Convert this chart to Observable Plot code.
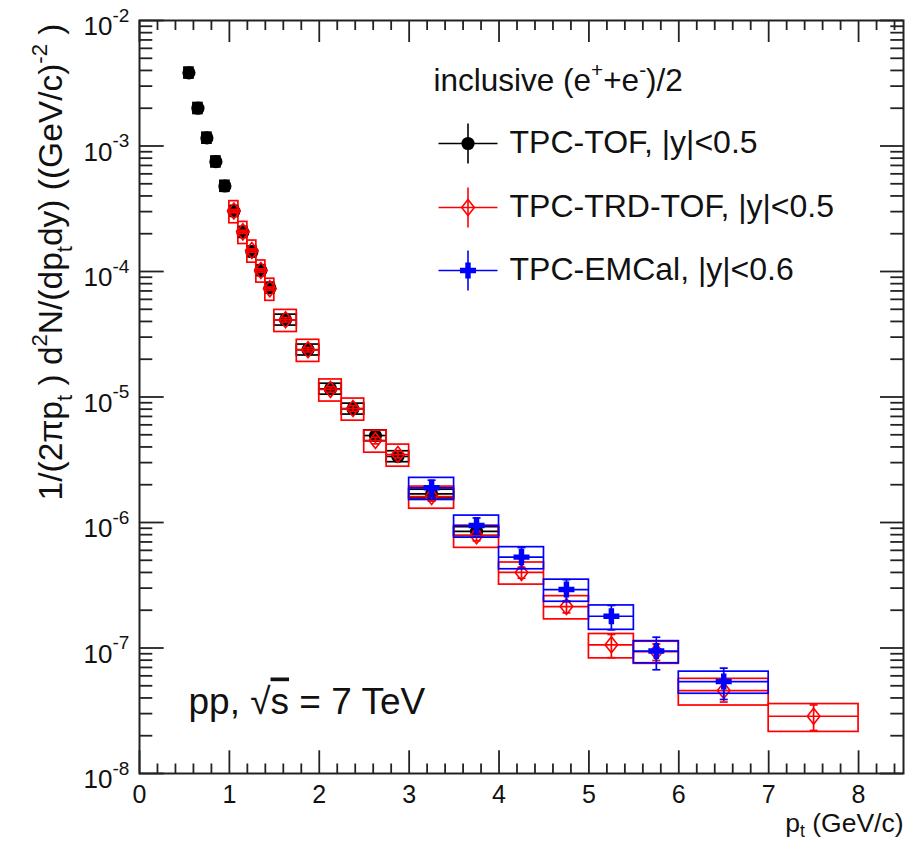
<!DOCTYPE html>
<html><head><meta charset="utf-8">
<script src="https://cdn.jsdelivr.net/npm/d3@7"></script>
<script src="https://cdn.jsdelivr.net/npm/@observablehq/plot@0.6"></script>
<style>html,body{margin:0;padding:0;background:#fff;overflow:hidden}</style>
</head><body><div id="chart"></div>
<script>
// ---------- data ----------
// TPC-TOF, |y|<0.5
const tofX    = [0.55,0.65,0.75,0.85,0.95,1.05,1.15,1.25,1.35,1.45,1.625,1.875,2.125,2.375,2.625,2.875,3.25,3.75];
const tofBinLo= [0.5,0.6,0.7,0.8,0.9,1.0,1.1,1.2,1.3,1.4,1.5,1.75,2.0,2.25,2.5,2.75,3.0,3.5];
const tofBinHi= [0.6,0.7,0.8,0.9,1.0,1.1,1.2,1.3,1.4,1.5,1.75,2.0,2.25,2.5,2.75,3.0,3.5,4.0];
const tofY    = [3.83e-3,2.0e-3,1.16e-3,7.5e-4,4.8e-4,3.03e-4,2.06e-4,1.44e-4,1.02e-4,7.4e-5,4.12e-5,2.38e-5,1.16e-5,8.05e-6,4.93e-6,3.36e-6,1.69e-6,8.5e-7];
const tofSys  = [0.1,0.1,0.1,0.1,0.1,0.1,0.1,0.1,0.1,0.1,0.1,0.1,0.1,0.1,0.1,0.1,0.08,0.08];
const tofStat = [0.02,0.02,0.02,0.02,0.02,0.02,0.02,0.02,0.02,0.02,0.02,0.02,0.03,0.03,0.03,0.04,0.05,0.06];

// TPC-TRD-TOF, |y|<0.5
const trdX    = [1.05,1.15,1.25,1.35,1.45,1.625,1.875,2.125,2.375,2.625,2.875,3.25,3.75,4.25,4.75,5.25,5.75,6.5,7.5];
const trdBinLo= [1.0,1.1,1.2,1.3,1.4,1.5,1.75,2.0,2.25,2.5,2.75,3.0,3.5,4.0,4.5,5.0,5.5,6.0,7.0];
const trdBinHi= [1.1,1.2,1.3,1.4,1.5,1.75,2.0,2.25,2.5,2.75,3.0,3.5,4.0,4.5,5.0,5.5,6.0,7.0,8.0];
const trdY    = [3.03e-4,2.07e-4,1.47e-4,1.02e-4,7.3e-5,4.12e-5,2.38e-5,1.15e-5,8.1e-6,4.5e-6,3.48e-6,1.61e-6,7.85e-7,4.0e-7,2.14e-7,1.06e-7,9.35e-8,4.58e-8,2.86e-8];
const trdSys  = [0.2,0.2,0.2,0.2,0.2,0.2,0.2,0.2,0.2,0.2,0.2,0.2,0.2,0.2,0.21,0.22,0.2,0.24,0.25];
const trdStat = [0.03,0.03,0.03,0.03,0.03,0.04,0.04,0.05,0.05,0.06,0.06,0.08,0.09,0.1,0.11,0.21,0.15,0.19,0.23];

// TPC-EMCal, |y|<0.6
const emcX    = [3.25,3.75,4.25,4.75,5.25,5.75,6.5];
const emcBinLo= [3.0,3.5,4.0,4.5,5.0,5.5,6.0];
const emcBinHi= [3.5,4.0,4.5,5.0,5.5,6.0,7.0];
const emcY    = [1.89e-6,9.46e-7,5.3e-7,2.92e-7,1.79e-7,9.45e-8,5.4e-8];
const emcSys  = [0.2,0.2,0.2,0.2,0.22,0.2,0.2];
const emcStat = [0.15,0.15,0.19,0.2,0.22,0.29,0.28];

// axes
const xDomain = [0, 8.5];
const yDomain = [1e-8, 1e-2];
const xTickLabels = [0,1,2,3,4,5,6,7,8];
const yTickExp = [-8,-7,-6,-5,-4,-3,-2];
const legendNames = ["TPC-TOF, |y|<0.5","TPC-TRD-TOF, |y|<0.5","TPC-EMCal, |y|<0.6"];
const legendTitleParts = [["inclusive (e"],["+","sup"],["+e"],["-","sup"],[")/2"]];
const yLabelParts = [["1/(2πp"],["t","sub"],[" ) d"],["2","sup"],["N/(dp"],["t","sub"],["dy) ((GeV/c)"],["-2","sup"],[" )"]];
const xLabelParts = [["p"],["t","sub"],[" (GeV/c)"]];
const energyParts = [["pp, √"],["s","over"],[" = 7 TeV"]];

// ---------- build ----------
const W = 918, H = 842, mL = 139, mR = 15, mT = 20, mB = 69;
const innerW = W - mL - mR, innerH = H - mT - mB;

const rows = (X, lo, hi, Y, sys, stat) => X.map((x, i) => ({x, lo: lo[i], hi: hi[i], y: Y[i], sys: sys[i], stat: stat[i]}));
const tof = rows(tofX, tofBinLo, tofBinHi, tofY, tofSys, tofStat);
const trd = rows(trdX, trdBinLo, trdBinHi, trdY, trdSys, trdStat);
const emc = rows(emcX, emcBinLo, emcBinHi, emcY, emcSys, emcStat);

const tallDiamond = {draw(c, size) { const r = Math.sqrt(size / Math.PI), w = r * 0.79;
  c.moveTo(0, -r); c.lineTo(w, 0); c.lineTo(0, r); c.lineTo(-w, 0); c.closePath(); }};
const fullCross = {draw(c, size) { const r = Math.sqrt(size / Math.PI), t = r * 0.34;
  c.moveTo(-t, -r); c.lineTo(t, -r); c.lineTo(t, -t); c.lineTo(r, -t); c.lineTo(r, t); c.lineTo(t, t);
  c.lineTo(t, r); c.lineTo(-t, r); c.lineTo(-t, t); c.lineTo(-r, t); c.lineTo(-r, -t); c.lineTo(-t, -t); c.closePath(); }};
const hLine = {draw(c, size) { const r = Math.sqrt(size / Math.PI); c.moveTo(-r, 0); c.lineTo(r, 0); }};
const vLine = {draw(c, size) { const r = Math.sqrt(size / Math.PI); c.moveTo(0, -r); c.lineTo(0, r); }};
const disc = {draw(c, size) { const r = Math.sqrt(size / Math.PI); c.moveTo(r, 0); c.arc(0, 0, r, 0, 2 * Math.PI); c.closePath(); }};

const sw = 1.7;
function seriesMarks(data, color, markerOpts) {
  return [
    Plot.rect(data, {x1: "lo", x2: "hi", y1: d => d.y * (1 - d.sys), y2: d => d.y * (1 + d.sys), fill: "none", stroke: color, strokeWidth: sw}),
    Plot.ruleY(data, {y: "y", x1: "lo", x2: "hi", stroke: color, strokeWidth: sw}),
    Plot.ruleX(data, {x: "x", y1: d => d.y * (1 - d.stat), y2: d => d.y * (1 + d.stat), stroke: color, strokeWidth: sw}),
    Plot.dot(data, {x: "x", y: d => d.y * (1 - d.stat), symbol: hLine, r: 4, stroke: color, strokeWidth: sw}),
    Plot.dot(data, {x: "x", y: d => d.y * (1 + d.stat), symbol: hLine, r: 4, stroke: color, strokeWidth: sw}),
    Plot.dot(data, {x: "x", y: "y", ...markerOpts})
  ];
}

const xMinor = d3.range(0.2, 8.45, 0.2).filter(v => Math.abs(v - Math.round(v)) > 1e-6);
const yMajor = yTickExp.map(e => 10 ** e);
const yMinor = yTickExp.slice(0, -1).flatMap(e => d3.range(2, 10).map(m => m * 10 ** e));
const axisColor = "#222";

const blackMarker = {symbol: disc, r: 6.6, fill: "black", stroke: "none"};
const redMarker = {symbol: tallDiamond, r: 8, fill: "none", stroke: "#ff0000", strokeWidth: 1.6};
const blueMarker = {symbol: fullCross, r: 8, fill: "#0000ff", stroke: "none"};

const legendY = [123, 187, 250];
const legendColors = ["black", "#ff0000", "#0000ff"];
const legendMarkers = [blackMarker, redMarker, blueMarker];

const legendMarks = legendY.flatMap((dy, i) => [
  Plot.dot([0], {frameAnchor: "top-left", dx: 328.5, dy, symbol: hLine, r: 29.5, stroke: legendColors[i], strokeWidth: 1.6}),
  Plot.dot([0], {frameAnchor: "top-left", dx: 328.5, dy, symbol: vLine, r: 20, stroke: legendColors[i], strokeWidth: 1.6}),
  Plot.dot([0], {frameAnchor: "top-left", dx: 328.5, dy, ...legendMarkers[i]}),
  Plot.text([legendNames[i]], {frameAnchor: "top-left", text: d => d, dx: 370, dy: dy + 9, textAnchor: "start", lineAnchor: "bottom", fontSize: 32, fill: "#111"})
]);

const chart = Plot.plot({
  width: W, height: H,
  marginLeft: mL, marginRight: mR, marginTop: mT, marginBottom: mB,
  style: {fontFamily: "'Liberation Sans', Arial, sans-serif", background: "white", color: "#111", overflow: "visible"},
  x: {domain: xDomain, axis: null},
  y: {type: "log", domain: yDomain, axis: null},
  marks: [
    // ticks (inside the frame, on all four sides)
    Plot.ruleX(xTickLabels, {x: d => d, insetTop: innerH - 22.7, stroke: axisColor, strokeWidth: 1.8}),
    Plot.ruleX(xMinor, {x: d => d, insetTop: innerH - 9.5, stroke: axisColor, strokeWidth: 1.8}),
    Plot.ruleX(xTickLabels, {x: d => d, insetBottom: innerH - 22, stroke: axisColor, strokeWidth: 1.8}),
    Plot.ruleX(xMinor, {x: d => d, insetBottom: innerH - 10, stroke: axisColor, strokeWidth: 1.8}),
    Plot.ruleY(yMajor, {y: d => d, insetRight: innerW - 24.7, stroke: axisColor, strokeWidth: 1.8}),
    Plot.ruleY(yMinor, {y: d => d, insetRight: innerW - 13.3, stroke: axisColor, strokeWidth: 1.8}),
    Plot.ruleY(yMajor, {y: d => d, insetLeft: innerW - 23, stroke: axisColor, strokeWidth: 1.8}),
    Plot.ruleY(yMinor, {y: d => d, insetLeft: innerW - 12.7, stroke: axisColor, strokeWidth: 1.8}),
    Plot.frame({stroke: axisColor, strokeWidth: 2}),
    // tick labels
    Plot.text(xTickLabels, {x: d => d, text: d => String(d), frameAnchor: "bottom", lineAnchor: "bottom", dy: 29.5, fontSize: 25, fill: "#111"}),
    Plot.text(yTickExp, {y: e => 10 ** e, text: () => "10", frameAnchor: "left", textAnchor: "end", lineAnchor: "bottom", dx: -27, dy: 14.5, fontSize: 26, fill: "#111"}),
    Plot.text(yTickExp, {y: e => 10 ** e, text: e => String(e), frameAnchor: "left", textAnchor: "start", lineAnchor: "bottom", dx: -27, dy: 1, fontSize: 19, fill: "#111"}),
    // axis titles (sub/superscripts filled in below)
    Plot.text(["@ylabel"], {text: d => d, frameAnchor: "top-left", rotate: -90, textAnchor: "end", lineAnchor: "bottom", dx: -78, dy: 3, fontSize: 33.5, fill: "#111"}),
    Plot.text(["@xlabel"], {text: d => d, frameAnchor: "bottom-right", textAnchor: "end", lineAnchor: "bottom", dx: 0, dy: 58, fontSize: 26.5, fill: "#111"}),
    Plot.text(["@energy"], {text: d => d, frameAnchor: "bottom-left", textAnchor: "start", lineAnchor: "bottom", dx: 49, dy: -60, fontSize: 37, fill: "#111"}),
    Plot.text(["@legtitle"], {text: d => d, frameAnchor: "top-left", textAnchor: "start", lineAnchor: "bottom", dx: 294, dy: 70, fontSize: 31.5, fill: "#111"}),
    // data
    ...seriesMarks(tof, "black", blackMarker),
    ...seriesMarks(trd, "#ff0000", redMarker),
    ...seriesMarks(emc, "#0000ff", blueMarker),
    // legend
    ...legendMarks
  ]
});
document.getElementById("chart").append(chart);

// rich text (sub/superscripts) for labels
const svgNS = "http://www.w3.org/2000/svg";
function rich(key, parts, F, subShift = 0.3) {
  const t = Array.from(chart.querySelectorAll("text")).find(el => el.textContent === key);
  if (!t) return;
  t.textContent = "";
  let shift = 0;
  for (const [s, kind] of parts) {
    const ts = document.createElementNS(svgNS, "tspan");
    const target = kind === "sub" ? subShift * F : kind === "sup" ? -0.42 * F : 0;
    ts.setAttribute("dy", target - shift);
    shift = target;
    if (kind === "sub" || kind === "sup") ts.setAttribute("font-size", 0.66 * F);
    if (kind === "over") ts.setAttribute("text-decoration", "overline");
    ts.textContent = s;
    t.appendChild(ts);
  }
}
rich("@ylabel", yLabelParts, 33.5);
rich("@xlabel", xLabelParts, 26.5, 0.2);
rich("@energy", energyParts, 37);
rich("@legtitle", legendTitleParts, 31.5);
</script>
</body></html>
